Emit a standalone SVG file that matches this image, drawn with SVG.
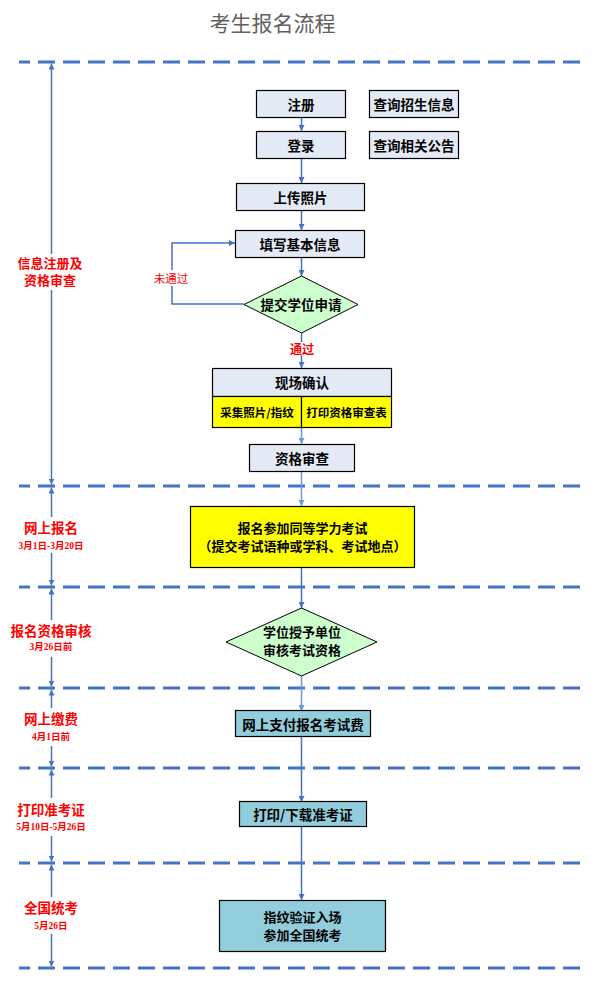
<svg xmlns="http://www.w3.org/2000/svg" width="591" height="986" viewBox="0 0 591 986">
<defs>
<marker id="ah" markerWidth="6" markerHeight="6" refX="6" refY="3" orient="auto" markerUnits="userSpaceOnUse"><path d="M0,0 L6,3 L0,6 z" fill="#4472C4"/></marker>
<marker id="ahl" markerWidth="6" markerHeight="6" refX="6" refY="3" orient="auto" markerUnits="userSpaceOnUse"><path d="M0,0 L6,3 L0,6 z" fill="#6A98D8"/></marker>
<style>
.title{font-family:"Noto Sans CJK SC","Noto Sans",sans-serif;font-size:21px;fill:#5f5f5f;text-anchor:middle;dominant-baseline:central}
.dash{stroke:#4472C4;stroke-width:3;stroke-dasharray:17 8;stroke-dashoffset:6;fill:none}
.vl{stroke:#4472C4;stroke-width:1.5;fill:none;marker-end:url(#ah)}
.c{stroke:#4472C4;stroke-width:1.5;fill:none}
.ca{stroke:#4472C4;stroke-width:1.5;fill:none;marker-end:url(#ah)}
.cl{stroke:#6A98D8;stroke-width:1.5;fill:none;marker-end:url(#ahl)}
.box{fill:#E3EAF5;stroke:#000;stroke-width:1.2}
.yel{fill:#FFFF00;stroke:#000;stroke-width:1.2}
.teal{fill:#92CDDC;stroke:#000;stroke-width:1.2}
.dia{fill:#CCFFCC;stroke:#000;stroke-width:1}
.t{font-family:"Noto Sans CJK SC","Noto Sans",sans-serif;font-weight:bold;font-size:13.5px;fill:#000;text-anchor:middle;dominant-baseline:central}
.t2{font-family:"Noto Sans CJK SC","Noto Sans",sans-serif;font-weight:bold;font-size:13px;fill:#000;text-anchor:middle}
.ts{font-family:"Noto Sans CJK SC","Noto Sans",sans-serif;font-weight:bold;font-size:11.5px;fill:#000;text-anchor:middle;dominant-baseline:central}
.lab{font-family:"Noto Sans CJK SC","Noto Sans",sans-serif;font-weight:bold;font-size:13.5px;fill:#FF0000;text-anchor:middle;dominant-baseline:central}
.lab2{font-family:"Noto Sans CJK SC","Noto Sans",sans-serif;font-weight:bold;font-size:13px;fill:#FF0000;text-anchor:middle}
.date{font-family:"Liberation Serif","Noto Sans CJK SC",serif;font-weight:bold;font-size:9.5px;fill:#FF0000;text-anchor:middle;dominant-baseline:central}
.red{font-family:"Noto Sans CJK SC","Noto Sans",sans-serif;font-size:11.5px;fill:#FF0000;text-anchor:middle;dominant-baseline:central}
.redb{font-family:"Noto Sans CJK SC","Noto Sans",sans-serif;font-weight:bold;font-size:12px;fill:#FF0000;text-anchor:middle;dominant-baseline:central}
</style>
</defs>

<text class="title" x="272.5" y="22">考生报名流程</text>

<g id="separators">
<line class="dash" x1="19" y1="62" x2="588" y2="62"/>
<line class="dash" x1="19" y1="486" x2="588" y2="486"/>
<line class="dash" x1="19" y1="587" x2="588" y2="587"/>
<line class="dash" x1="19" y1="688" x2="588" y2="688"/>
<line class="dash" x1="19" y1="768" x2="588" y2="768"/>
<line class="dash" x1="19" y1="863" x2="588" y2="863"/>
<line class="dash" x1="19" y1="968" x2="588" y2="968"/>
</g>

<g id="phase-arrows">
<line class="vl" x1="51.5" y1="254" x2="51.5" y2="63.5"/>
<line class="vl" x1="51.5" y1="290" x2="51.5" y2="484.5"/>
<line class="vl" x1="51.5" y1="517" x2="51.5" y2="487.5"/>
<line class="vl" x1="51.5" y1="553" x2="51.5" y2="585.5"/>
<line class="vl" x1="51.5" y1="620" x2="51.5" y2="588.5"/>
<line class="vl" x1="51.5" y1="657" x2="51.5" y2="686.5"/>
<line class="vl" x1="51.5" y1="708" x2="51.5" y2="689.5"/>
<line class="vl" x1="51.5" y1="746" x2="51.5" y2="766.5"/>
<line class="vl" x1="51.5" y1="798" x2="51.5" y2="769.5"/>
<line class="vl" x1="51.5" y1="836" x2="51.5" y2="861.5"/>
<line class="vl" x1="51.5" y1="897" x2="51.5" y2="864.5"/>
<line class="vl" x1="51.5" y1="934" x2="51.5" y2="966.5"/>
</g>

<g id="phase-labels">
<text class="lab2" x="50" y="267.5"><tspan x="50">信息注册及</tspan><tspan x="50" dy="17.5">资格审查</tspan></text>
<text class="lab" x="51" y="527">网上报名</text>
<text class="date" x="51" y="545.5">3月1日-3月20日</text>
<text class="lab" x="51" y="630">报名资格审核</text>
<text class="date" x="51" y="647">3月26日前</text>
<text class="lab" x="51" y="718">网上缴费</text>
<text class="date" x="51" y="737">4月1日前</text>
<text class="lab" x="51" y="809">打印准考证</text>
<text class="date" x="51" y="827">5月10日-5月26日</text>
<text class="lab" x="51" y="907">全国统考</text>
<text class="date" x="51" y="926">5月26日</text>
</g>

<g id="connectors">
<line class="ca" x1="301.5" y1="117" x2="301.5" y2="131"/>
<line class="ca" x1="301.5" y1="158" x2="301.5" y2="183"/>
<line class="ca" x1="301.5" y1="210" x2="301.5" y2="230"/>
<line class="ca" x1="301.5" y1="257" x2="301.5" y2="276"/>
<line class="c" x1="301.5" y1="333" x2="301.5" y2="342"/>
<line class="ca" x1="301.5" y1="355" x2="301.5" y2="368"/>
<polyline class="c" points="244,304 172,304 172,286"/>
<polyline class="ca" points="172,270 172,243 235,243"/>
<line class="cl" x1="301.5" y1="427" x2="301.5" y2="444"/>
<line class="cl" x1="301.5" y1="472" x2="301.5" y2="506"/>
<line class="ca" x1="301.5" y1="568" x2="301.5" y2="608"/>
<line class="cl" x1="301.5" y1="676" x2="301.5" y2="711"/>
<line class="ca" x1="301.5" y1="737" x2="301.5" y2="802"/>
<line class="ca" x1="301.5" y1="827" x2="301.5" y2="900"/>
<text class="red" x="171" y="278">未通过</text>
<text class="redb" x="302" y="348">通过</text>
</g>

<g id="n-zhuce"><rect class="box" x="256.5" y="90.5" width="89" height="27"/><text class="t" x="301" y="104">注册</text></g>
<g id="n-zsxx"><rect class="box" x="369.5" y="90.5" width="89" height="27"/><text class="t" x="414" y="104">查询招生信息</text></g>
<g id="n-denglu"><rect class="box" x="256.5" y="131.5" width="89" height="27"/><text class="t" x="301" y="145">登录</text></g>
<g id="n-xggg"><rect class="box" x="369.5" y="131.5" width="89" height="27"/><text class="t" x="414" y="145">查询相关公告</text></g>
<g id="n-zhaopian"><rect class="box" x="236.5" y="183.5" width="128" height="27"/><text class="t" x="300.5" y="197">上传照片</text></g>
<g id="n-jbxx"><rect class="box" x="235.5" y="230.5" width="129" height="27"/><text class="t" x="300" y="244">填写基本信息</text></g>
<g id="n-tjsq"><polygon class="dia" points="301.5,276 358,304.5 301.5,333 244,304.5"/><text class="t" x="301" y="304">提交学位申请</text></g>
<g id="n-xcqr">
<rect class="box" x="212.5" y="368.5" width="179" height="28"/><text class="t" x="302" y="382">现场确认</text>
<rect class="yel" x="212.5" y="396.5" width="89" height="31"/><text class="ts" x="257" y="412">采集照片/指纹</text>
<rect class="yel" x="301.5" y="396.5" width="90" height="31"/><text class="ts" x="346.5" y="412">打印资格审查表</text>
</g>
<g id="n-zgsc"><rect class="box" x="249.5" y="444.5" width="105" height="27"/><text class="t" x="302" y="458">资格审查</text></g>
<g id="n-baoming"><rect class="yel" x="190.5" y="506.5" width="224" height="61"/><text class="t2" x="302.5" y="532.5"><tspan x="302.5">报名参加同等学力考试</tspan><tspan x="302.5" dy="18">（提交考试语种或学科、考试地点）</tspan></text></g>
<g id="n-shenhe"><polygon class="dia" points="301.5,608 377,642 301.5,676 226,642"/><text class="t2" x="302" y="636.5"><tspan x="302">学位授予单位</tspan><tspan x="302" dy="18">审核考试资格</tspan></text></g>
<g id="n-zhifu"><rect class="teal" x="235.5" y="710.5" width="135" height="26"/><text class="t" x="303" y="724">网上支付报名考试费</text></g>
<g id="n-zkz"><rect class="teal" x="239.5" y="801.5" width="127" height="25"/><text class="t" x="303" y="814">打印/下载准考证</text></g>
<g id="n-kaoshi"><rect class="teal" x="219.5" y="900.5" width="166" height="51"/><text class="t2" x="302.5" y="921.5"><tspan x="302.5">指纹验证入场</tspan><tspan x="302.5" dy="18">参加全国统考</tspan></text></g>
</svg>
